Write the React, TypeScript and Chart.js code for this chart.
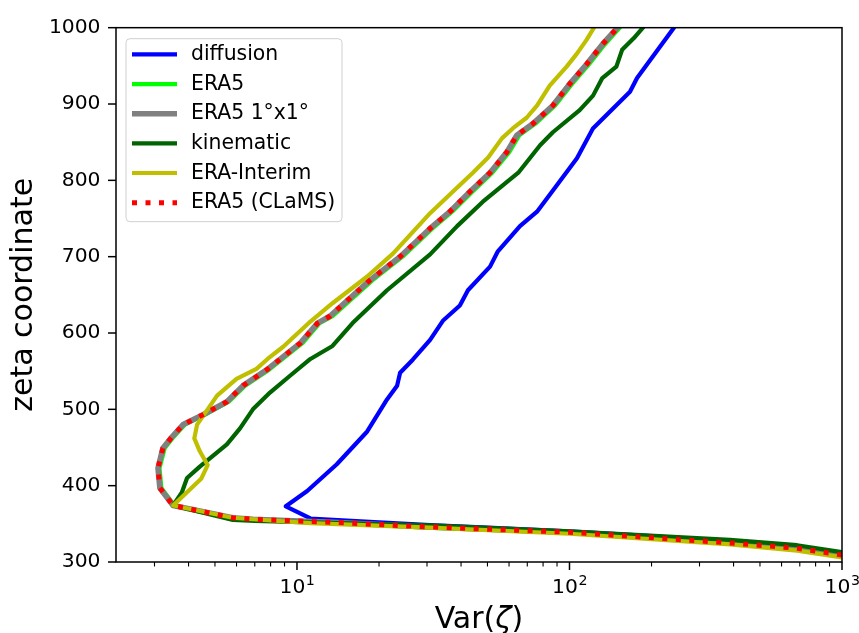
import React, { useEffect, useRef } from 'react';
import { Chart, registerables } from 'chart.js';

Chart.register(...registerables);

const FONT = "'DejaVu Sans', 'Liberation Sans', sans-serif";

// ---- data (Var(zeta) vs zeta coordinate) ----
const diffusionVar = [1000, 684, 388, 200, 100, 50, 30.8, 20, 11.2, 9.1, 10.9, 14.0, 18.1, 21.4, 23.3, 23.9, 26.6, 30.8, 34.3, 39.6, 42.4, 51.1, 54.6, 65.8, 76, 90, 106.5, 121.9, 166.7, 177, 241.7];
const diffusionZeta = [311, 320, 327, 334, 340, 345, 348.5, 352, 357, 373, 393, 428, 471, 513, 531, 548, 565, 591, 616, 636, 656, 687, 707, 740, 759, 794, 829, 868, 916, 934, 1000];

const era5Var = [1000, 684, 388, 100, 30, 13.5, 6.9, 5.8, 3.55, 3.18, 3.13, 3.27, 3.53, 3.88, 4.6, 5.62, 6.45, 7.9, 10.5, 12.1, 13.5, 18.9, 24.4, 31.4, 37.1, 44, 52.1, 60.1, 65.4, 74.8, 88.6, 102, 117.8, 134.6, 153];
const era5Zeta = [308, 317, 324, 338, 345, 351, 355, 357, 374, 397, 423, 449, 464, 480, 493, 510, 531, 552, 587, 613, 622, 669, 700, 737, 759, 785, 810, 837, 859, 874, 898, 926, 952, 978, 1000];

const era5CoarseVar = [1000, 684, 388, 100, 30, 13.5, 6.9, 5.8, 3.51, 3.14, 3.09, 3.22, 3.48, 3.82, 4.52, 5.53, 6.34, 7.76, 10.3, 11.9, 13.2, 18.5, 23.9, 30.8, 36.4, 43.1, 51.1, 58.9, 64.1, 73.3, 86.9, 100, 115.5, 132, 150];
const era5CoarseZeta = [309, 318, 325, 339, 346, 352, 356, 358, 374, 397, 423, 449, 464, 480, 493, 510, 531, 552, 587, 613, 622, 669, 700, 737, 759, 785, 810, 837, 859, 874, 898, 926, 952, 978, 1000];

const kinematicVar = [1000, 684, 388, 100, 30.8, 11.2, 7, 5.82, 3.51, 3.78, 3.95, 4.40, 5.53, 6.18, 6.89, 7.96, 9.43, 11.2, 13.5, 16.0, 21.4, 30.8, 38.7, 48.1, 64.9, 78, 86.9, 109, 122, 132, 148.6, 156, 172, 186];
const kinematicZeta = [313, 322, 329, 340, 348, 352, 354, 355, 374, 391, 410, 425, 454, 475, 500, 522, 544, 566, 583, 613, 656, 703, 740, 772, 810, 846, 863, 892, 911, 934, 949, 971, 986, 1000];

const eraInterimVar = [1000, 684, 388, 100, 30.8, 11.2, 6.89, 5.8, 3.51, 4.45, 4.70, 4.40, 4.20, 4.30, 4.68, 5.09, 6.0, 7.1, 7.8, 8.9, 11.2, 13.5, 18.1, 22.5, 30.8, 37.3, 44.2, 50.3, 56.5, 61.9, 69.6, 76, 84.6, 97.6, 106.5, 115.5, 123];
const eraInterimZeta = [306, 315, 323, 337, 345, 351, 356, 358, 374, 409, 427, 445, 462, 480, 499, 518, 540, 553, 566, 582, 615, 639, 674, 704, 757, 785, 810, 830, 855, 868, 882, 898, 924, 949, 966, 984, 1000];

const clamsVar = [1000, 684, 388, 100, 30, 13.5, 6.9, 5.8, 3.51, 3.14, 3.09, 3.22, 3.48, 3.82, 4.52, 5.53, 6.34, 7.76, 10.3, 11.9, 13.2, 18.5, 23.9, 30.8, 36.4, 43.1, 51.1, 58.9, 64.1, 73.3, 86.9, 100, 115.5, 132, 150];
const clamsZeta = [309, 318, 325, 339, 346, 352, 356, 358, 374, 397, 423, 449, 464, 480, 493, 510, 531, 552, 587, 613, 622, 669, 700, 737, 759, 785, 810, 837, 859, 874, 898, 926, 952, 978, 1000];

const seriesNames = ['diffusion', 'ERA5', 'ERA5 1°x1°', 'kinematic', 'ERA-Interim', 'ERA5 (CLaMS)'];
const seriesColors = ['#0000ff', '#00ff00', '#808080', '#006400', '#bfbf00', '#ff0000'];

// ---- axes ----
const xMin = 2.167;
const xMax = 1000;
const yMin = 300;
const yMax = 1000;
const yStep = 100;
const xMajorTicks = [10, 100, 1000];
const xMinorTicks = [3, 4, 5, 6, 7, 8, 9, 20, 30, 40, 50, 60, 70, 80, 90, 200, 300, 400, 500, 600, 700, 800, 900];
const xTickBase = '10';
const xTickExponents = ['1', '2', '3'];
const xTitleParts = ['Var(', 'ζ', ')'];
const yTitle = 'zeta coordinate';

const seriesData: [number[], number[]][] = [
  [diffusionVar, diffusionZeta],
  [era5Var, era5Zeta],
  [era5CoarseVar, era5CoarseZeta],
  [kinematicVar, kinematicZeta],
  [eraInterimVar, eraInterimZeta],
  [clamsVar, clamsZeta],
];
const seriesWidths = [4.2, 4.2, 5.6, 4.2, 4.2, 5];
const seriesDash: number[][] = [[], [], [], [], [], [5, 8.5]];

const TICK_SIZE = 20.3;
const SUP_SIZE = 14.2;
const LEGEND_SIZE = 20.4;
const TITLE_SIZE = 30;

const decorPlugin = {
  id: 'decor',
  afterDatasetsDraw(chart: any) {
    const { ctx, chartArea: a, scales } = chart;
    const xs = scales.x;
    const ys = scales.y;
    ctx.save();
    ctx.strokeStyle = '#000';
    ctx.lineCap = 'butt';
    // x ticks
    xs.ticks.forEach((t: any) => {
      const px = xs.getPixelForValue(t.value);
      const major = xMajorTicks.includes(t.value);
      ctx.lineWidth = major ? 1.5 : 1.1;
      ctx.beginPath();
      ctx.moveTo(px, a.bottom);
      ctx.lineTo(px, a.bottom + (major ? 8 : 4.5));
      ctx.stroke();
    });
    // y ticks
    ctx.lineWidth = 1.5;
    ys.ticks.forEach((t: any) => {
      const py = ys.getPixelForValue(t.value);
      ctx.beginPath();
      ctx.moveTo(a.left - 8, py);
      ctx.lineTo(a.left, py);
      ctx.stroke();
    });
    // spines
    ctx.lineWidth = 1.5;
    ctx.strokeRect(a.left, a.top, a.right - a.left, a.bottom - a.top);

    // x tick labels with superscripts
    ctx.fillStyle = '#000';
    ctx.textBaseline = 'alphabetic';
    ctx.textAlign = 'left';
    xMajorTicks.forEach((v, i) => {
      const px = xs.getPixelForValue(v);
      ctx.font = `${TICK_SIZE}px ${FONT}`;
      const w1 = ctx.measureText(xTickBase).width;
      ctx.font = `${SUP_SIZE}px ${FONT}`;
      const w2 = ctx.measureText(xTickExponents[i]).width;
      const x0 = px - (w1 + w2) / 2;
      const base = a.bottom + 30.6;
      ctx.font = `${TICK_SIZE}px ${FONT}`;
      ctx.fillText(xTickBase, x0, base);
      ctx.font = `${SUP_SIZE}px ${FONT}`;
      ctx.fillText(xTickExponents[i], x0 + w1 + 0.5, base - 7.8);
    });

    // x title
    const fonts = [`${TITLE_SIZE}px ${FONT}`, `italic ${TITLE_SIZE}px ${FONT}`, `${TITLE_SIZE}px ${FONT}`];
    let total = 0;
    const widths = xTitleParts.map((s, i) => {
      ctx.font = fonts[i];
      const w = ctx.measureText(s).width;
      total += w;
      return w;
    });
    let tx = (a.left + a.right) / 2 - total / 2;
    xTitleParts.forEach((s, i) => {
      ctx.font = fonts[i];
      ctx.fillText(s, tx, 628);
      tx += widths[i];
    });

    // legend
    const lx = a.left + 10;
    const ly = a.top + 11;
    const lw = 216;
    const lh = 183;
    const r = 4;
    ctx.beginPath();
    ctx.moveTo(lx + r, ly);
    ctx.lineTo(lx + lw - r, ly);
    ctx.arcTo(lx + lw, ly, lx + lw, ly + r, r);
    ctx.lineTo(lx + lw, ly + lh - r);
    ctx.arcTo(lx + lw, ly + lh, lx + lw - r, ly + lh, r);
    ctx.lineTo(lx + r, ly + lh);
    ctx.arcTo(lx, ly + lh, lx, ly + lh - r, r);
    ctx.lineTo(lx, ly + r);
    ctx.arcTo(lx, ly, lx + r, ly, r);
    ctx.closePath();
    ctx.fillStyle = 'rgba(255,255,255,0.8)';
    ctx.fill();
    ctx.strokeStyle = '#d0d0d0';
    ctx.lineWidth = 1;
    ctx.stroke();

    ctx.font = `${LEGEND_SIZE}px ${FONT}`;
    ctx.textBaseline = 'middle';
    seriesNames.forEach((name, i) => {
      const ry = ly + 15.7 + i * 29.66;
      ctx.strokeStyle = seriesColors[i];
      ctx.lineWidth = seriesWidths[i];
      ctx.setLineDash(seriesDash[i]);
      ctx.lineCap = 'butt';
      ctx.beginPath();
      ctx.moveTo(lx + 6, ry);
      ctx.lineTo(lx + 51, ry);
      ctx.stroke();
      ctx.setLineDash([]);
      ctx.fillStyle = '#000';
      ctx.fillText(name, lx + 65, ry + 0.5);
    });
    ctx.restore();
  },
};

export default function App() {
  const canvasRef = useRef<HTMLCanvasElement | null>(null);

  useEffect(() => {
    document.body.style.margin = '0';
    document.body.style.overflow = 'hidden';
    const canvas = canvasRef.current;
    if (!canvas) return;

    const datasets = seriesNames.map((name, i) => ({
      label: name,
      data: seriesData[i][0].map((x, j) => ({ x, y: seriesData[i][1][j] })),
      borderColor: seriesColors[i],
      backgroundColor: seriesColors[i],
      borderWidth: seriesWidths[i],
      borderDash: seriesDash[i],
      borderCapStyle: i === 5 ? 'butt' : 'round',
      borderJoinStyle: 'round',
      pointRadius: 0,
      pointHoverRadius: 0,
      showLine: true,
      fill: false,
      tension: 0,
      clip: 0,
      order: seriesNames.length - 1 - i,
    }));

    const chart = new Chart(canvas, {
      type: 'scatter',
      data: { datasets: datasets as any },
      options: {
        responsive: false,
        animation: false,
        devicePixelRatio: 1,
        events: [],
        layout: { padding: { top: 21, right: 17, left: 0, bottom: 0 } },
        plugins: {
          legend: { display: false },
          tooltip: { enabled: false },
        },
        scales: {
          x: {
            type: 'logarithmic',
            min: xMin,
            max: xMax,
            grid: { display: false, drawTicks: false },
            border: { display: false },
            ticks: { display: false },
            afterBuildTicks: (scale: any) => {
              scale.ticks = [...xMinorTicks, ...xMajorTicks]
                .sort((p, q) => p - q)
                .map((value) => ({ value, major: xMajorTicks.includes(value) }));
            },
            afterFit: (scale: any) => {
              scale.height = 71;
            },
          },
          y: {
            type: 'linear',
            min: yMin,
            max: yMax,
            grid: { display: false, drawTicks: false },
            border: { display: false },
            ticks: {
              stepSize: yStep,
              color: '#000',
              padding: 15.5,
              font: { family: FONT, size: TICK_SIZE },
              callback: (v: any) => String(v),
            },
            title: {
              display: true,
              text: yTitle,
              color: '#000',
              font: { family: FONT, size: TITLE_SIZE, lineHeight: 1 },
              padding: { top: 9.6, bottom: 0 },
            },
            afterFit: (scale: any) => {
              scale.width = 116;
            },
          },
        },
      } as any,
      plugins: [decorPlugin],
    });

    return () => {
      chart.destroy();
    };
  }, []);

  return (
    <div style={{ width: 859, height: 633 }}>
      <canvas ref={canvasRef} width={859} height={633} style={{ display: 'block' }} />
    </div>
  );
}
